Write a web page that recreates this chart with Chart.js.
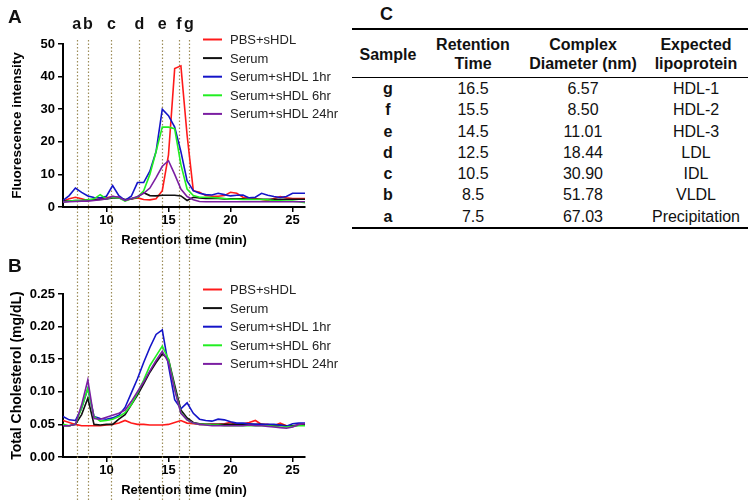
<!DOCTYPE html>
<html>
<head>
<meta charset="utf-8">
<script src="https://cdn.jsdelivr.net/npm/chart.js@4.4.0/dist/chart.umd.min.js"></script>
<style>
  body { margin:0; background:#fff; width:754px; height:500px; position:relative; overflow:hidden;
         font-family:"Liberation Sans", Arial, sans-serif; color:#111; }
  .wrap { position:absolute; left:0; width:340px; height:250px; }
  #wrapA { top:0; }
  #wrapB { top:250px; }
  .tag { position:absolute; font-weight:bold; font-size:19px; line-height:19px; }
  #summary { position:absolute; left:352px; top:28px; width:396px; border-collapse:collapse;
             font-size:16px; border-top:2px solid #000; border-bottom:2px solid #000; }
  #summary th { font-weight:bold; line-height:19px; padding:5px 0 4px; border-bottom:1.5px solid #000;
                text-align:center; vertical-align:middle; }
  #summary td { line-height:21.3px; padding:0; text-align:center; }
  #summary td:first-child { font-weight:bold; }
</style>
</head>
<body>
<div class="wrap" id="wrapA"><canvas id="chartA" width="340" height="250"></canvas></div>
<div class="wrap" id="wrapB"><canvas id="chartB" width="340" height="250"></canvas></div>
<div class="tag" style="left:8px;top:7px">A</div>
<div class="tag" style="left:8px;top:256px">B</div>
<div class="tag" style="left:380px;top:5px;font-size:18px">C</div>
<table id="summary">
  <colgroup><col style="width:72px"><col style="width:98px"><col style="width:122px"><col style="width:104px"></colgroup>
  <thead><tr id="headRow"></tr></thead>
  <tbody id="bodyRows"></tbody>
</table>
<script>
// retention time grid (min)
const times = [6.5, 7, 7.5, 8, 8.5, 9, 9.5, 10, 10.5, 11, 11.5, 12, 12.5, 13, 13.5, 14, 14.5, 15, 15.5, 16,
               16.5, 17, 17.5, 18, 18.5, 19, 19.5, 20, 20.5, 21, 21.5, 22, 22.5, 23, 23.5, 24, 24.5, 25, 25.5, 26];

const seriesLabels = ['PBS+sHDL', 'Serum', 'Serum+sHDL 1hr', 'Serum+sHDL 6hr', 'Serum+sHDL 24hr'];
const seriesColors = ['#ff1a1a', '#111111', '#1414c8', '#22ee22', '#7b1fa2'];

// panel A - fluorescence intensity
const fluoPbs = [1.8, 2.5, 3.0, 2.5, 2.0, 2.2, 2.5, 2.8, 3.2, 3.0, 2.0, 2.5, 2.8, 2.3, 2.2, 2.5, 5.0, 16, 42.5, 43.3,
                 22, 5.0, 4.5, 3.5, 3.3, 3.3, 3.5, 4.5, 4.2, 3.0, 2.8, 2.6, 2.3, 2.0, 2.6, 3.2, 2.8, 2.6, 2.6, 2.6];
const fluoSerum = [1.8, 1.8, 2.0, 2.0, 2.2, 2.2, 2.3, 2.5, 2.8, 2.8, 2.3, 2.5, 3.0, 4.4, 3.5, 3.4, 3.6, 3.6, 3.6, 3.4,
                   2.0, 3.0, 2.8, 2.6, 2.6, 2.6, 2.5, 2.5, 2.5, 2.5, 2.4, 2.4, 2.4, 2.4, 2.4, 2.4, 2.4, 2.4, 2.4, 2.4];
const fluo1hr = [2.0, 3.5, 5.8, 4.5, 3.4, 2.9, 2.8, 3.3, 6.6, 3.5, 2.0, 3.3, 7.5, 7.5, 11, 17, 30, 28, 24.5, 17,
                 8, 5, 4.2, 3.8, 3.7, 4.2, 3.8, 3.4, 3.6, 3.7, 2.8, 3.0, 4.2, 3.6, 3.2, 2.9, 3.2, 4.2, 4.2, 4.2];
const fluo6hr = [1.5, 1.8, 2.0, 2.0, 2.2, 2.5, 3.8, 2.5, 3.0, 2.8, 1.8, 2.5, 3.0, 5.0, 10, 17, 24.5, 24.5, 24, 13,
                 5.5, 3.5, 3.0, 3.0, 2.9, 2.8, 2.6, 2.4, 2.4, 2.3, 2.3, 2.3, 2.3, 2.2, 2.0, 1.9, 1.8, 1.8, 1.6, 1.3];
const fluo24hr = [1.5, 1.6, 1.7, 1.8, 1.8, 2.0, 2.2, 2.5, 3.3, 3.0, 2.0, 2.5, 3.2, 4.2, 5.8, 9, 12.5, 14.2, 10, 5.5,
                  3.2, 2.2, 1.7, 1.6, 1.6, 1.6, 1.6, 1.6, 1.6, 1.6, 1.6, 1.6, 1.6, 1.6, 1.6, 1.6, 1.6, 1.6, 1.6, 1.6];

// panel B - total cholesterol (mg/dL)
const cholPbs = [0.056, 0.053, 0.050, 0.048, 0.048, 0.048, 0.048, 0.049, 0.050, 0.052, 0.056, 0.052, 0.050, 0.050, 0.049, 0.049, 0.049, 0.050, 0.053, 0.056,
                 0.052, 0.051, 0.050, 0.050, 0.050, 0.050, 0.051, 0.053, 0.050, 0.051, 0.053, 0.056, 0.050, 0.050, 0.048, 0.052, 0.048, 0.047, 0.049, 0.050];
const cholSerum = [0.048, 0.048, 0.050, 0.065, 0.090, 0.050, 0.049, 0.050, 0.050, 0.058, 0.065, 0.080, 0.095, 0.112, 0.130, 0.145, 0.158, 0.150, 0.110, 0.072,
                   0.060, 0.053, 0.051, 0.050, 0.050, 0.050, 0.050, 0.050, 0.050, 0.050, 0.050, 0.050, 0.050, 0.049, 0.049, 0.049, 0.048, 0.048, 0.049, 0.050];
const chol1hr = [0.062, 0.057, 0.056, 0.075, 0.105, 0.062, 0.059, 0.058, 0.060, 0.064, 0.076, 0.098, 0.120, 0.145, 0.168, 0.188, 0.195, 0.140, 0.088, 0.074,
                 0.083, 0.067, 0.058, 0.056, 0.055, 0.058, 0.057, 0.054, 0.052, 0.052, 0.051, 0.050, 0.050, 0.050, 0.050, 0.049, 0.047, 0.051, 0.052, 0.052];
const chol6hr = [0.050, 0.048, 0.050, 0.075, 0.105, 0.062, 0.055, 0.056, 0.058, 0.062, 0.068, 0.080, 0.098, 0.118, 0.140, 0.155, 0.170, 0.150, 0.105, 0.068,
                 0.057, 0.052, 0.050, 0.050, 0.049, 0.049, 0.048, 0.048, 0.048, 0.048, 0.048, 0.048, 0.048, 0.048, 0.047, 0.046, 0.046, 0.047, 0.048, 0.048];
const chol24hr = [0.048, 0.048, 0.050, 0.080, 0.118, 0.059, 0.058, 0.061, 0.064, 0.067, 0.072, 0.085, 0.100, 0.115, 0.132, 0.148, 0.162, 0.145, 0.103, 0.067,
                  0.057, 0.052, 0.050, 0.049, 0.048, 0.048, 0.048, 0.048, 0.048, 0.048, 0.049, 0.048, 0.048, 0.047, 0.046, 0.045, 0.044, 0.046, 0.050, 0.051];

// fraction markers a-g
const fractionLetters = ['a', 'b', 'c', 'd', 'e', 'f', 'g'];
const fractionTimes = [7.6, 8.5, 10.4, 12.65, 14.5, 15.85, 16.65];
const xTicks = [10, 15, 20, 25];

// panel C table
const tableHeaders = [['Sample'], ['Retention', 'Time'], ['Complex', 'Diameter (nm)'], ['Expected', 'lipoprotein']];
const sampleIds = ['g', 'f', 'e', 'd', 'c', 'b', 'a'];
const retentionTimes = ['16.5', '15.5', '14.5', '12.5', '10.5', '8.5', '7.5'];
const complexDiameters = ['6.57', '8.50', '11.01', '18.44', '30.90', '51.78', '67.03'];
const lipoproteins = ['HDL-1', 'HDL-2', 'HDL-3', 'LDL', 'IDL', 'VLDL', 'Precipitation'];

const FONT = '"Liberation Sans", Arial, sans-serif';

const fractionPlugin = {
    id: 'fractions',
    beforeDatasetsDraw(chart, args, opts) {
        const { ctx, scales: { x } } = chart;
        ctx.save();
        ctx.strokeStyle = '#9c8c58';
        ctx.lineWidth = 1.2;
        ctx.setLineDash([1.5, 2]);
        fractionTimes.forEach(t => {
            const px = Math.round(x.getPixelForValue(t)) + 0.5;
            ctx.beginPath();
            ctx.moveTo(px, opts.top);
            ctx.lineTo(px, chart.height);
            ctx.stroke();
        });
        ctx.restore();
    },
    afterDraw(chart, args, opts) {
        const { ctx, scales: { x } } = chart;
        ctx.save();
        // legend
        ctx.font = '13px ' + FONT;
        ctx.textBaseline = 'middle';
        chart.data.datasets.forEach((ds, i) => {
            const y = 39.5 + i * 18.6;
            ctx.strokeStyle = ds.borderColor;
            ctx.lineWidth = 2;
            ctx.beginPath();
            ctx.moveTo(203, y);
            ctx.lineTo(222, y);
            ctx.stroke();
            ctx.fillStyle = '#222';
            ctx.fillText(ds.label, 230, y + 1);
        });
        if (opts.letters) {
            ctx.font = 'bold 16px ' + FONT;
            ctx.fillStyle = '#111';
            ctx.textAlign = 'center';
            fractionTimes.forEach((t, i) => {
                ctx.fillText(fractionLetters[i], x.getPixelForValue(t), 25);
            });
        }
        ctx.restore();
    }
};

function makeChart(id, values, yMax, yStep, yTitle, yTitleSize, decimals, letters, guideTop) {
    const datasets = values.map((vals, i) => ({
        label: seriesLabels[i],
        data: times.map((t, j) => ({ x: t, y: vals[j] })),
        borderColor: seriesColors[i],
        borderWidth: 1.6,
        pointRadius: 0,
        tension: 0,
        fill: false,
        order: values.length - i
    }));
    return new Chart(document.getElementById(id), {
        type: 'line',
        data: { datasets },
        options: {
            responsive: false,
            animation: false,
            layout: { padding: { left: 0, right: 35, top: 44, bottom: 0 } },
            plugins: {
                legend: { display: false },
                tooltip: { enabled: false },
                fractions: { letters: letters, top: guideTop }
            },
            scales: {
                x: {
                    type: 'linear',
                    min: 6.5,
                    max: 26,
                    afterBuildTicks: s => { s.ticks = xTicks.map(v => ({ value: v })); },
                    afterFit: s => { s.height = 43; },
                    grid: { drawOnChartArea: false, drawTicks: true, tickLength: 5, color: '#000', lineWidth: 1.5 },
                    border: { color: '#000', width: 2 },
                    ticks: { color: '#000', autoSkip: false, maxRotation: 0, padding: 1,
                             font: { family: FONT, size: 13, weight: 'bold' } },
                    title: { display: true, text: 'Retention time (min)', color: '#000',
                             font: { family: FONT, size: 13, weight: 'bold' }, padding: { top: 0, bottom: 2 } }
                },
                y: {
                    min: 0,
                    max: yMax,
                    afterFit: s => { s.width = 63; },
                    grid: { drawOnChartArea: false, drawTicks: true, tickLength: 5, color: '#000', lineWidth: 1.5 },
                    border: { color: '#000', width: 2 },
                    ticks: { stepSize: yStep, color: '#000', padding: 3,
                             font: { family: FONT, size: 13, weight: 'bold' },
                             callback: v => v.toFixed(decimals) },
                    title: { display: true, text: yTitle, color: '#000',
                             font: { family: FONT, size: yTitleSize, weight: 'bold' }, padding: { top: 9, bottom: 0 } }
                }
            }
        },
        plugins: [fractionPlugin]
    });
}

makeChart('chartA', [fluoPbs, fluoSerum, fluo1hr, fluo6hr, fluo24hr], 50, 10,
          'Fluorescence intensity', 13.5, 0, true, 40);
makeChart('chartB', [cholPbs, cholSerum, chol1hr, chol6hr, chol24hr], 0.25, 0.05,
          'Total Cholesterol (mg/dL)', 14, 2, false, 0);

// table
const headRow = document.getElementById('headRow');
tableHeaders.forEach(lines => {
    const th = document.createElement('th');
    th.innerHTML = lines.join('<br>');
    headRow.appendChild(th);
});
const body = document.getElementById('bodyRows');
sampleIds.forEach((s, i) => {
    const tr = document.createElement('tr');
    [s, retentionTimes[i], complexDiameters[i], lipoproteins[i]].forEach(v => {
        const td = document.createElement('td');
        td.textContent = v;
        tr.appendChild(td);
    });
    body.appendChild(tr);
});
</script>
</body>
</html>
